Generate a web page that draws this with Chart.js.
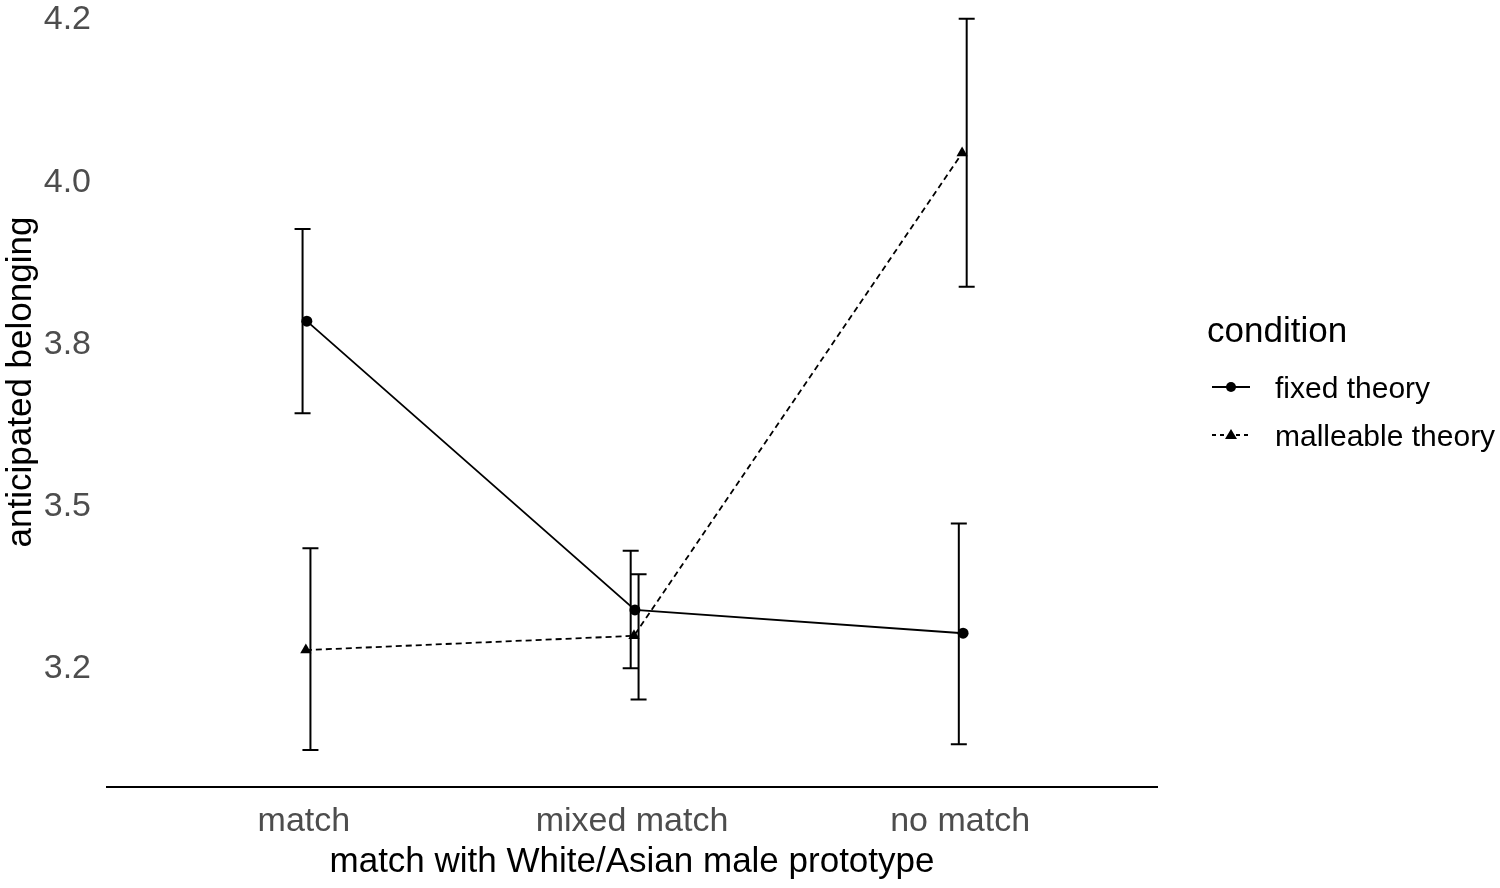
<!DOCTYPE html>
<html>
<head>
<meta charset="utf-8">
<script src="https://cdn.jsdelivr.net/npm/chart.js@4.4.1/dist/chart.umd.min.js"></script>
<style>
  html, body { margin: 0; padding: 0; background: #fff; }
  #wrap { width: 1500px; height: 888px; position: relative; }
</style>
</head>
<body>
<div id="wrap"><canvas id="chart"></canvas></div>
<script>
// Data
const categories = ['match', 'mixed match', 'no match'];
const fixedMean = [3.786, 3.341, 3.305];
const fixedLower = [3.644, 3.251, 3.134];
const fixedUpper = [3.928, 3.432, 3.474];
const malleableMean = [3.279, 3.301, 4.045];
const malleableLower = [3.125, 3.203, 3.839];
const malleableUpper = [3.436, 3.396, 4.252];
const yTickValues = [3.25, 3.5, 3.75, 4.0, 4.25];
const yTickLabels = ['3.2', '3.5', '3.8', '4.0', '4.2'];

// small dodge used by the original plot
const fixedPointShift = 0.009;
const fixedBarShift = -0.004;
const malleablePointShift = 0.006;
const malleableBarShift = 0.02;

const FONT = "'Liberation Sans', Arial, sans-serif";
Chart.defaults.font.family = FONT;

const errorBars = {
    id: 'errorBars',
    beforeDatasetsDraw(chart) {
        const { ctx, scales: { x, y } } = chart;
        ctx.save();
        ctx.strokeStyle = '#000';
        ctx.lineWidth = 2;
        [[fixedLower, fixedUpper, fixedBarShift], [malleableLower, malleableUpper, malleableBarShift]].forEach(([lo, hi, shift]) => {
            categories.forEach((c, i) => {
                const px = x.getPixelForValue(i + 1 + shift);
                const top = y.getPixelForValue(hi[i]);
                const bot = y.getPixelForValue(lo[i]);
                ctx.beginPath();
                ctx.moveTo(px, top); ctx.lineTo(px, bot);
                ctx.moveTo(px - 8, top); ctx.lineTo(px + 8, top);
                ctx.moveTo(px - 8, bot); ctx.lineTo(px + 8, bot);
                ctx.stroke();
            });
        });
        ctx.restore();
    }
};

const extras = {
    id: 'extras',
    afterDraw(chart) {
        const ctx = chart.ctx;
        ctx.save();
        // y axis title
        ctx.fillStyle = '#000';
        ctx.font = '35px ' + FONT;
        ctx.textAlign = 'center';
        ctx.textBaseline = 'middle';
        ctx.translate(21, 382);
        ctx.rotate(-Math.PI / 2);
        ctx.fillText('anticipated belonging', 0, 0);
        ctx.setTransform(1, 0, 0, 1, 0, 0);

        // legend
        ctx.textAlign = 'left';
        ctx.textBaseline = 'alphabetic';
        ctx.font = '35px ' + FONT;
        ctx.fillText('condition', 1207, 342);

        const entries = [
            { label: 'fixed theory', y: 387, dash: [], marker: 'circle' },
            { label: 'malleable theory', y: 435, dash: [4, 4], marker: 'triangle' }
        ];
        entries.forEach(e => {
            ctx.strokeStyle = '#000';
            ctx.lineWidth = 2;
            ctx.setLineDash(e.dash);
            ctx.beginPath();
            ctx.moveTo(1212, e.y);
            ctx.lineTo(1250, e.y);
            ctx.stroke();
            ctx.setLineDash([]);
            ctx.beginPath();
            if (e.marker === 'circle') {
                ctx.arc(1231, e.y, 5, 0, Math.PI * 2);
            } else {
                ctx.moveTo(1231, e.y - 6);
                ctx.lineTo(1237, e.y + 4);
                ctx.lineTo(1225, e.y + 4);
                ctx.closePath();
            }
            ctx.fill();
            ctx.font = '30px ' + FONT;
            ctx.textBaseline = 'middle';
            ctx.fillText(e.label, 1275, e.y + 3);
        });
        ctx.restore();
    }
};

new Chart(document.getElementById('chart').getContext('2d'), {
    type: 'line',
    data: {
        datasets: [
            {
                label: 'fixed theory',
                data: categories.map((c, i) => ({ x: i + 1 + fixedPointShift, y: fixedMean[i] })),
                borderColor: '#000',
                backgroundColor: '#000',
                borderWidth: 1.8,
                pointStyle: 'circle',
                pointRadius: 5.5,
                pointBorderWidth: 0,
                tension: 0
            },
            {
                label: 'malleable theory',
                data: categories.map((c, i) => ({ x: i + 1 + malleablePointShift, y: malleableMean[i] })),
                borderColor: '#000',
                backgroundColor: '#000',
                borderWidth: 1.8,
                borderDash: [6, 4],
                pointStyle: 'triangle',
                pointRadius: 6.5,
                pointBorderWidth: 0,
                tension: 0
            }
        ]
    },
    options: {
        responsive: true,
        maintainAspectRatio: false,
        animation: false,
        layout: { autoPadding: false, padding: { left: 0, right: 343, top: 0, bottom: 0 } },
        plugins: { legend: { display: false }, tooltip: { enabled: false } },
        scales: {
            x: {
                type: 'linear',
                min: 0.4,
                max: 3.6,
                grid: { display: false, drawTicks: false },
                border: { display: true, color: '#000', width: 2 },
                afterBuildTicks: s => { s.ticks = categories.map((c, i) => ({ value: i + 1 })); },
                afterFit: s => { s.height = 101; s.paddingLeft = 0; s.paddingRight = 0; },
                ticks: {
                    callback: v => categories[v - 1],
                    font: { size: 34 },
                    color: '#4d4d4d',
                    padding: 14,
                    maxRotation: 0,
                    autoSkip: false
                },
                title: {
                    display: true,
                    text: 'match with White/Asian male prototype',
                    font: { size: 35 },
                    color: '#000',
                    padding: { top: 0, bottom: 5 }
                }
            },
            y: {
                type: 'linear',
                min: 3.068,
                max: 4.281,
                grid: { display: false, drawTicks: false },
                border: { display: false },
                afterBuildTicks: s => { s.ticks = yTickValues.map(v => ({ value: v })); },
                afterFit: s => { s.width = 107; s.paddingTop = 0; s.paddingBottom = 0; },
                ticks: {
                    callback: (v) => yTickLabels[yTickValues.indexOf(v)],
                    font: { size: 34 },
                    color: '#4d4d4d',
                    padding: 16,
                    autoSkip: false
                }
            }
        }
    },
    plugins: [errorBars, extras]
});
</script>
</body>
</html>
